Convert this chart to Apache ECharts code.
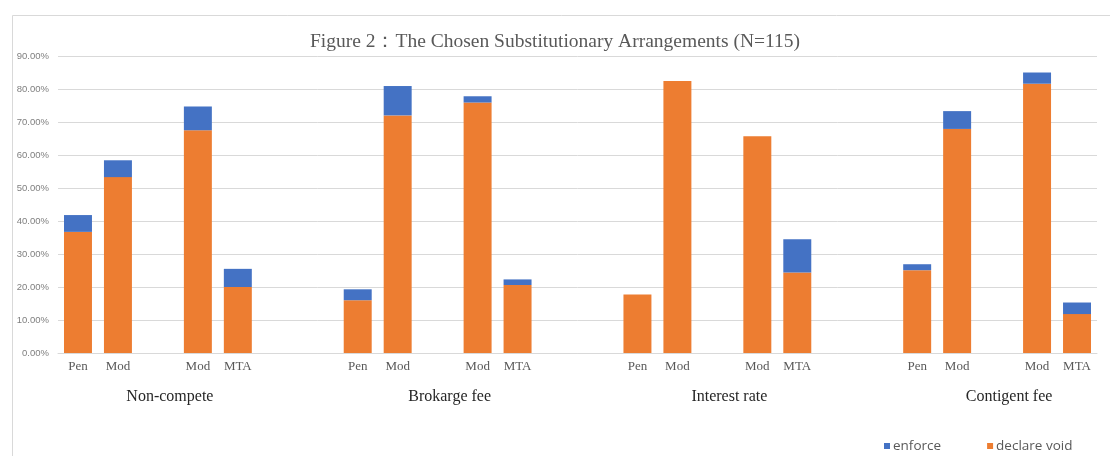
<!DOCTYPE html>
<html>
<head>
<meta charset="utf-8">
<script src="https://cdn.jsdelivr.net/npm/echarts@6/dist/echarts.min.js"></script>
<style>html,body{margin:0;padding:0;background:#fff;}#c{width:1110px;height:456px;}</style>
</head>
<body>
<div id="c"></div>
<script>
// ---- data ----
const categories = ['Pen','Mod','','Mod','MTA','','',
                    'Pen','Mod','','Mod','MTA','','',
                    'Pen','Mod','','Mod','MTA','','',
                    'Pen','Mod','','Mod','MTA'];
const groups = ['Non-compete','Brokarge fee','Interest rate','Contigent fee'];
const groupStart = [0, 7, 14, 21];
const declareVoid = [36.7, 53.3, null, 67.5, 20.0, null, null,
                     16.0, 72.0, null, 75.9, 20.6, null, null,
                     17.7, 82.4, null, 65.7, 24.4, null, null,
                     25.1, 67.9, null, 81.6, 11.8];
const enforce = [5.1, 5.1, null, 7.2, 5.5, null, null,
                 3.3, 8.9, null, 1.9, 1.7, null, null,
                 0, 0, null, 0, 10.1, null, null,
                 1.8, 5.4, null, 3.4, 3.5];
const yTicks = [0, 10, 20, 30, 40, 50, 60, 70, 80, 90];

// ---- layout ----
const groupLabelShift = 2.8; // slots from group start to label centre
const groupPos = groupStart.map(s => s + groupLabelShift);

const chart = echarts.init(document.getElementById('c'));
chart.setOption({
  animation: false,
  backgroundColor: '#ffffff',
  title: {
    text: 'Figure 2：The Chosen Substitutionary Arrangements (N=115)',
    left: 'center', top: 27,
    textStyle: { fontFamily: 'Liberation Serif', fontSize: 19.5, fontWeight: 'normal', color: '#595959' }
  },
  graphic: [{
    type: 'rect', left: 10, top: 13, silent: true,
    shape: { x: 0, y: 0, width: 1110, height: 460 },
    style: { fill: null, stroke: '#d9d9d9', lineWidth: 1 }
  }],
  legend: {
    data: ['enforce', 'declare void'],
    left: 884, top: 439, padding: 0,
    itemWidth: 6, itemHeight: 6, itemGap: 46, icon: 'rect',
    textStyle: { fontFamily: 'Open Sans', fontSize: 13.5, color: '#595959', padding: [0, 0, 0, -2] }
  },
  grid: { left: 58, right: 13, top: 56, bottom: 103, containLabel: false },
  xAxis: [{
    type: 'category', data: categories, position: 'bottom',
    axisLine: { lineStyle: { color: '#d9d9d9' } },
    axisTick: { show: false },
    axisLabel: { interval: 0, margin: 7, fontFamily: 'Liberation Serif', fontSize: 13, color: '#595959' }
  }, {
    type: 'value', min: 0, max: categories.length, position: 'bottom',
    axisLine: { show: false }, axisTick: { show: false }, splitLine: { show: false },
    axisLabel: {
      customValues: groupPos, margin: 36,
      fontFamily: 'Liberation Serif', fontSize: 16, color: '#262626',
      formatter: function (v) {
        let best = 0;
        for (let i = 0; i < groupPos.length; i++) if (Math.abs(groupPos[i] - v) < Math.abs(groupPos[best] - v)) best = i;
        return groups[best];
      }
    }
  }],
  yAxis: {
    type: 'value', min: yTicks[0], max: yTicks[yTicks.length - 1], interval: yTicks[1] - yTicks[0],
    axisLine: { show: false }, axisTick: { show: false },
    splitLine: { lineStyle: { color: '#d9d9d9' } },
    axisLabel: { margin: 9, fontFamily: 'Liberation Sans', fontSize: 9.5, color: '#7f7f7f',
      formatter: v => v.toFixed(2) + '%' }
  },
  series: [{
    name: 'declare void', type: 'bar', stack: 'total', xAxisIndex: 0,
    data: declareVoid, barWidth: '70%', itemStyle: { color: '#ED7D31' }
  }, {
    name: 'enforce', type: 'bar', stack: 'total', xAxisIndex: 0,
    data: enforce, barWidth: '70%', itemStyle: { color: '#4472C4' }
  }]
});
</script>
</body>
</html>
